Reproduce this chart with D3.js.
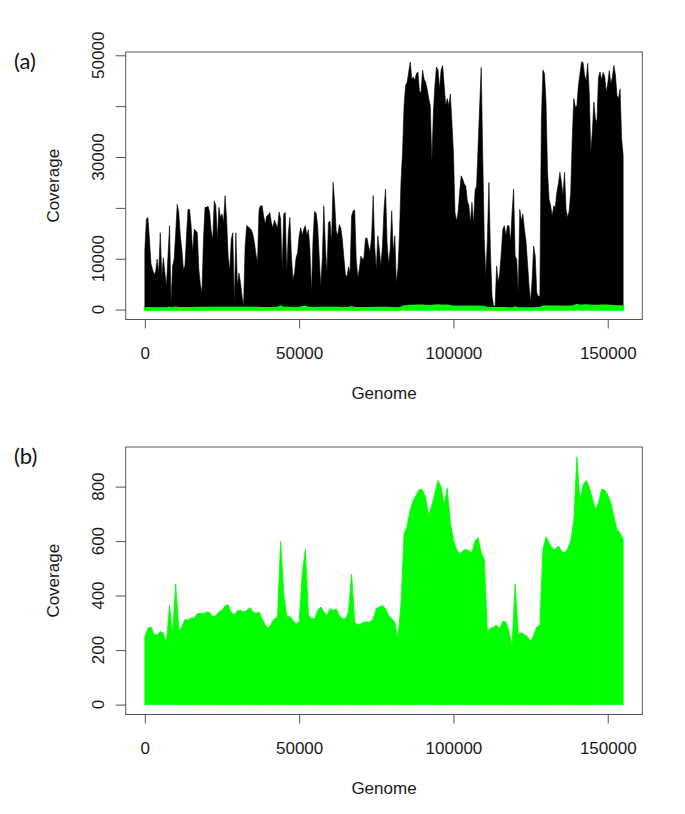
<!DOCTYPE html>
<html>
<head>
<meta charset="utf-8">
<script src="https://cdn.jsdelivr.net/npm/d3@7"></script>
<style>
  html, body { margin: 0; padding: 0; background: #fff; }
  svg { display: block; }
</style>
</head>
<body>
<div id="chart"></div>
<script>
// ---- DATA ----
// Panel (a): total coverage (black), genome position every 500 bp
const genomePosFine = d3.range(0, 155001, 500);
const coverageTotal = [
 11800,17800,18100,13800,9000,7900,6900,7500,9900,7200,
 15100,6600,10200,7200,4600,10500,16500,1300,8600,9900,
 15100,20700,19100,14500,11800,7900,8600,14500,19700,19700,
 16500,11200,15800,15500,15100,7900,4900,3300,13800,20100,
 20100,20300,19100,15500,13800,21400,20400,13800,20100,18100,
 18800,17100,22400,17800,10500,7600,13800,15100,1300,15100,
 4600,7200,5300,2600,700,12500,16500,16300,16000,15700,
 14800,13200,10900,9200,19700,20400,20400,18400,16800,18400,
 18600,19100,17100,16100,17600,16800,16100,19200,17800,7900,
 18800,19100,7200,15100,18100,10500,5900,7200,10200,11200,
 14500,16100,14600,15800,16500,14600,15700,11800,3300,13800,
 19300,19000,16500,10500,4600,9900,20400,12500,7200,17100,
 17400,13200,25000,21100,15500,14500,16700,16100,13800,10200,
 6900,6400,8400,7200,18400,19400,19600,9900,6300,7900,
 10500,9900,10200,14000,14100,12400,11400,14500,22400,12200,
 7900,14500,11800,8600,12500,19700,23700,13200,8900,11800,
 19400,11200,14500,5300,7900,14500,25000,30900,40100,44100,
 44700,46700,48700,45400,45700,45100,46400,46700,42800,42800,
 47100,45300,44700,43300,41500,40100,29000,38800,44100,47700,
 47100,43400,47100,48000,44100,40100,41500,40100,42400,36900,
 30900,19100,17400,19100,23000,26300,25700,24700,24300,21400,
 20400,17100,21100,16800,23400,24300,32200,40100,47600,30000,
 13800,6600,13800,25000,11200,2600,700,700,8600,5300,
 7200,11200,15800,16500,14500,16500,16500,13200,19100,23700,
 10500,9900,3300,19700,17400,18800,15800,13500,9200,4600,
 1600,5900,12500,10500,3300,2600,2600,37500,47100,46400,
 40800,27000,21700,20400,18400,20400,20100,23000,24700,27000,
 25000,22400,27000,19700,18100,19400,23000,33600,41500,39800,
 40100,44100,46400,48700,48600,46100,44900,48400,42800,30900,
 34900,40800,37500,36900,45700,46700,45100,46600,45900,42800,
 44400,47000,44400,45700,48000,46100,42100,41500,43400,33600,
 30300
];

// Panel (b) and green line of (a): filtered coverage, every 1000 bp
const genomePos = d3.range(0, 155001, 1000);
const coverageFiltered = [
 250,280,285,258,255,268,262,225,364,256,
 443,273,285,312,310,318,318,333,335,333,
 340,338,322,327,340,346,362,366,339,328,
 345,346,340,345,356,340,334,340,315,293,
 280,297,315,322,600,406,322,323,309,297,
 303,479,570,330,315,315,345,358,340,327,
 352,345,352,327,315,315,340,479,303,291,
 297,303,303,303,315,352,358,364,352,327,
 315,303,240,370,625,655,715,750,770,790,
 788,758,691,733,776,822,800,733,794,667,
 606,570,552,564,570,564,558,600,612,558,
 533,267,279,285,291,279,306,303,267,215,
 443,258,264,257,249,230,255,285,291,570,
 616,594,572,570,582,564,555,572,600,673,
 909,746,806,822,798,758,715,740,790,788,
 770,740,691,643,630,606
];

const xTicks = [0, 50000, 100000, 150000];
const yTicksA = [0, 10000, 20000, 30000, 40000, 50000];
const yLabelsA = [0, 10000, 30000, 50000];
const yTicksB = [0, 200, 400, 600, 800];
const yLabelsB = [0, 200, 400, 600, 800];
const panelLabels = ["(a)", "(b)"];
const xTitle = "Genome";
const yTitle = "Coverage";

// ---- LAYOUT ----
const W = 685, H = 814;
const svg = d3.select("#chart").append("svg").attr("width", W).attr("height", H);

const box = { left: 125.7, right: 642.3, top: 52, bottom: 319.5 };
const panelOffset = 395;
const axisColor = "#555";
const textColor = "#1a1a1a";
const tickFamily = "Liberation Sans, Arial, Helvetica, sans-serif";
const tickSize = "17px";

const xMin = 0, xMax = 155000;
const xr = xMax - xMin;
const x = d3.scaleLinear()
  .domain([xMin - 0.04 * xr, xMax + 0.04 * xr])
  .range([box.left, box.right]);

function styleText(sel) {
  return sel.attr("font-family", tickFamily).attr("font-size", tickSize).attr("fill", textColor);
}

function drawPanel(idx, seriesList, yMax, yTicks, yLabels) {
  const oy = idx * panelOffset;
  const g = svg.append("g").attr("transform", `translate(0,${oy})`);
  const y = d3.scaleLinear()
    .domain([-0.04 * yMax, 1.04 * yMax])
    .range([box.bottom, box.top]);

  seriesList.forEach(s => {
    const data = s.pos.map((p, i) => ({ p, v: s.values[i] }));
    const area = d3.area().x(d => x(d.p)).y0(y(0)).y1(d => y(d.v));
    g.append("path").datum(data)
      .attr("d", area)
      .attr("fill", s.color)
      .attr("stroke", s.color)
      .attr("stroke-width", s.sw)
      .attr("stroke-linejoin", "miter");
  });

  g.append("rect")
    .attr("x", box.left).attr("y", box.top)
    .attr("width", box.right - box.left).attr("height", box.bottom - box.top)
    .attr("fill", "none").attr("stroke", axisColor).attr("stroke-width", 1);

  const xa = g.append("g").attr("transform", `translate(0,${box.bottom})`)
    .call(d3.axisBottom(x).tickValues(xTicks).tickSize(9).tickPadding(18).tickFormat(d3.format("d")));
  xa.select(".domain").remove();
  xa.selectAll(".tick line").attr("stroke", axisColor);
  styleText(xa.selectAll(".tick text"));

  const ya = g.append("g").attr("transform", `translate(${box.left},0)`)
    .call(d3.axisLeft(y).tickValues(yTicks).tickSize(10).tickFormat(""));
  ya.select(".domain").remove();
  ya.selectAll(".tick line").attr("stroke", axisColor);

  styleText(g.selectAll("text.ylab").data(yLabels).enter().append("text")
    .attr("class", "ylab")
    .attr("transform", d => `translate(104,${y(d)}) rotate(-90)`)
    .attr("text-anchor", "middle")
    .text(d => d3.format("d")(d)));

  styleText(g.append("text")
    .attr("x", (box.left + box.right) / 2).attr("y", 398.5)
    .attr("text-anchor", "middle")
    .text(xTitle));
  styleText(g.append("text")
    .attr("transform", `translate(58.5,${(box.top + box.bottom) / 2}) rotate(-90)`)
    .attr("text-anchor", "middle")
    .text(yTitle));

  g.append("text")
    .attr("x", 14).attr("y", 69)
    .attr("font-family", "Lato, 'Open Sans', sans-serif").attr("font-size", "22px")
    .attr("fill", "#111")
    .text(panelLabels[idx]);
}

drawPanel(0, [
  { pos: genomePosFine, values: coverageTotal, color: "#000000", sw: 0.6 },
  { pos: genomePos, values: coverageFiltered, color: "#00ff00", sw: 2.2 }
], d3.max(coverageTotal), yTicksA, yLabelsA);

drawPanel(1, [
  { pos: genomePos, values: coverageFiltered, color: "#00ff00", sw: 0.8 }
], d3.max(coverageFiltered), yTicksB, yLabelsB);
</script>
</body>
</html>
